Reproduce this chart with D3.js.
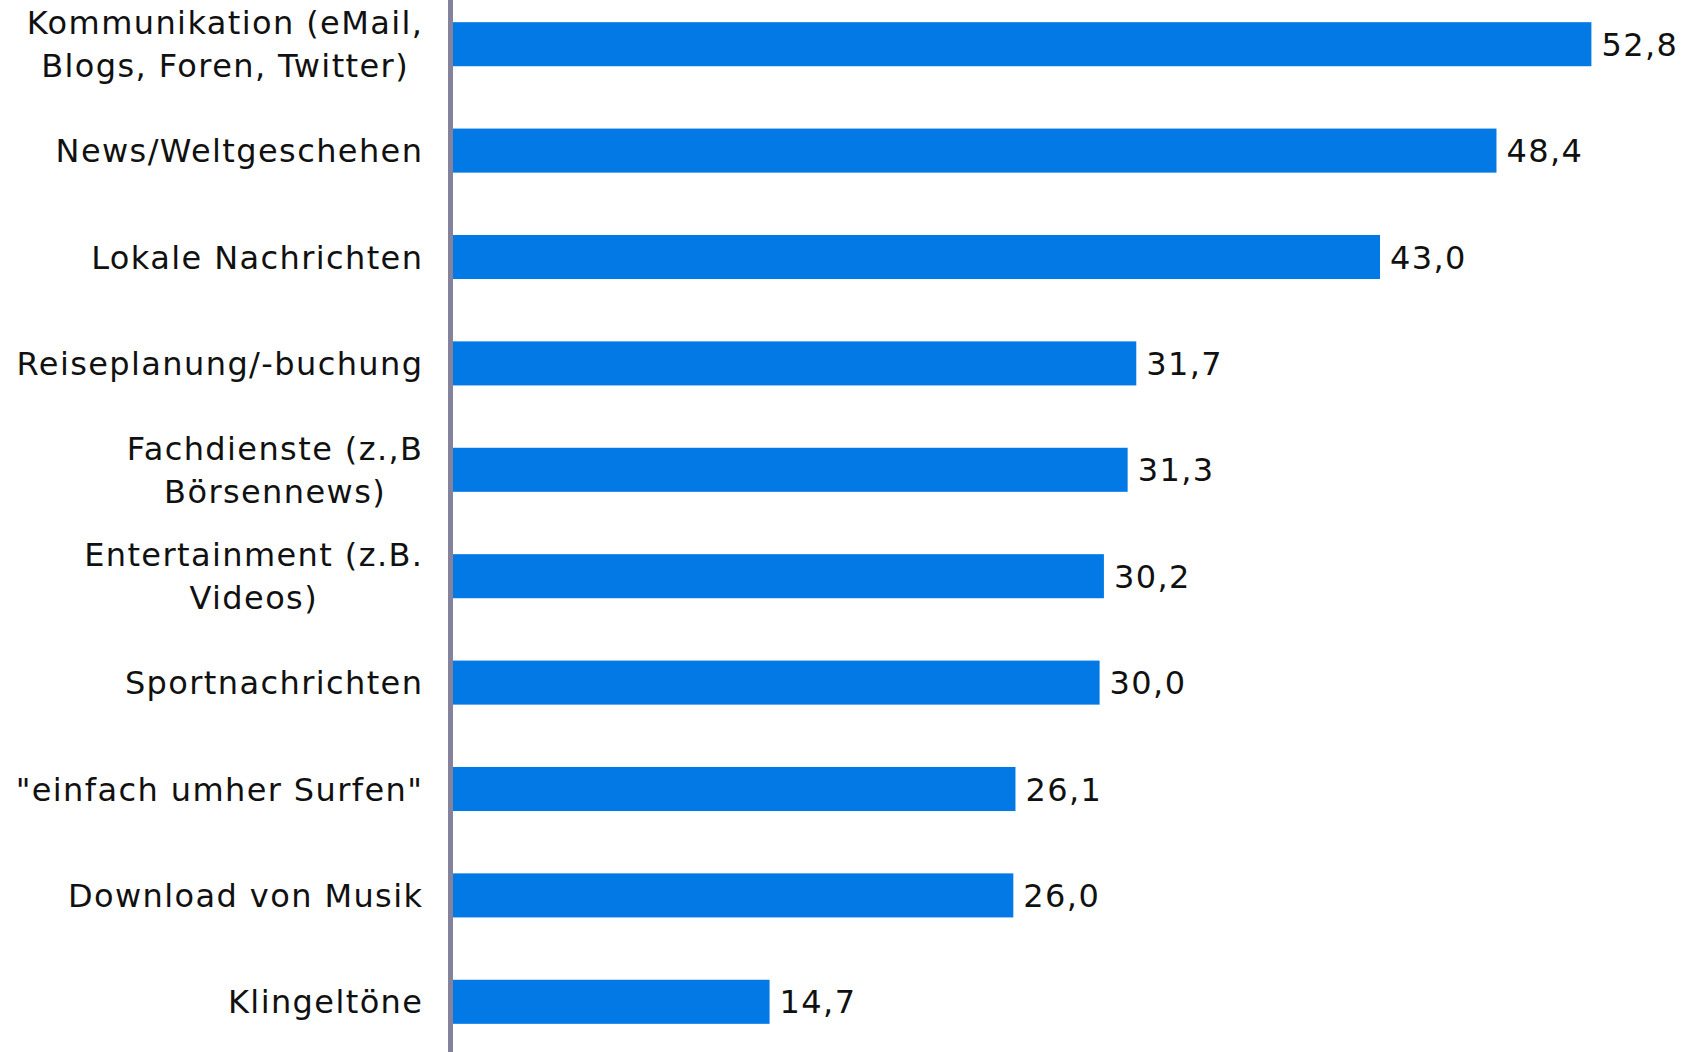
<!DOCTYPE html>
<html>
<head>
<meta charset="utf-8">
<script src="https://cdn.jsdelivr.net/npm/d3@7"></script>
<style>
  html, body { margin: 0; padding: 0; background: #ffffff; }
  svg { display: block; font-family: "DejaVu Sans", Verdana, sans-serif; }
</style>
</head>
<body>
<svg id="chart" width="1684" height="1052"></svg>
<script>
// Nutzungszwecke des mobilen Internets (Anteile in %)
const categories = [
  ["Kommunikation (eMail,", "Blogs, Foren, Twitter)"],
  ["News/Weltgeschehen"],
  ["Lokale Nachrichten"],
  ["Reiseplanung/-buchung"],
  ["Fachdienste (z.,B", "Börsennews)"],
  ["Entertainment (z.B.", "Videos)"],
  ["Sportnachrichten"],
  ["\"einfach umher Surfen\""],
  ["Download von Musik"],
  ["Klingeltöne"]
];
const values = [52.8, 48.4, 43.0, 31.7, 31.3, 30.2, 30.0, 26.1, 26.0, 14.7];

const W = 1684, H = 1052;
const svg = d3.select("#chart");

const keys = categories.map((c, i) => i);
const x = d3.scaleLinear().domain([0, 55]).range([452.5, 452.5 + 55 * 21.57]);
const y = d3.scaleBand().domain(keys).range([-9, 1055])
  .paddingInner(0.586).paddingOuter(0.293);

const de = d3.formatLocale({ decimal: ",", thousands: ".", grouping: [3], currency: ["", " €"] });
const fmt = de.format(".1f");
const spacing = 1.4;

// Balken
svg.append("g").selectAll("rect").data(values).join("rect")
  .attr("x", x(0))
  .attr("y", (d, i) => y(i))
  .attr("width", d => x(d) - x(0))
  .attr("height", y.bandwidth())
  .attr("fill", "#0379e6");

// Werte rechts neben den Balken
svg.append("g").selectAll("text").data(values).join("text")
  .attr("x", d => x(d) + 10)
  .attr("y", (d, i) => y(i) + y.bandwidth() / 2)
  .attr("dy", "0.36em")
  .attr("font-size", 32)
  .attr("letter-spacing", spacing)
  .attr("fill", "#111")
  .text(d => fmt(d));

// Kategorienachse (nur Linie)
const axis = svg.append("g").attr("transform", "translate(450,0)")
  .call(d3.axisLeft(y).tickSize(0).tickSizeOuter(0).tickFormat(""));
axis.select(".domain").attr("stroke", "#85829e").attr("stroke-width", 5);

// Kategoriebeschriftungen: Block rechtsbündig, Zeilen zentriert
const labelRight = 422 + spacing;
const lineH = 43;
const lg = svg.append("g").attr("font-size", 32).attr("letter-spacing", spacing).attr("fill", "#111");
categories.forEach((lines, i) => {
  const cy = y(i) + y.bandwidth() / 2;
  const t = lg.append("text").attr("text-anchor", "middle");
  const spans = lines.map((ln, j) => t.append("tspan")
    .attr("y", cy + (j - (lines.length - 1) / 2) * lineH)
    .attr("dy", "0.36em")
    .text(ln));
  const maxW = d3.max(spans, s => s.node().getComputedTextLength());
  spans.forEach(s => s.attr("x", labelRight - maxW / 2));
});
</script>
</body>
</html>
